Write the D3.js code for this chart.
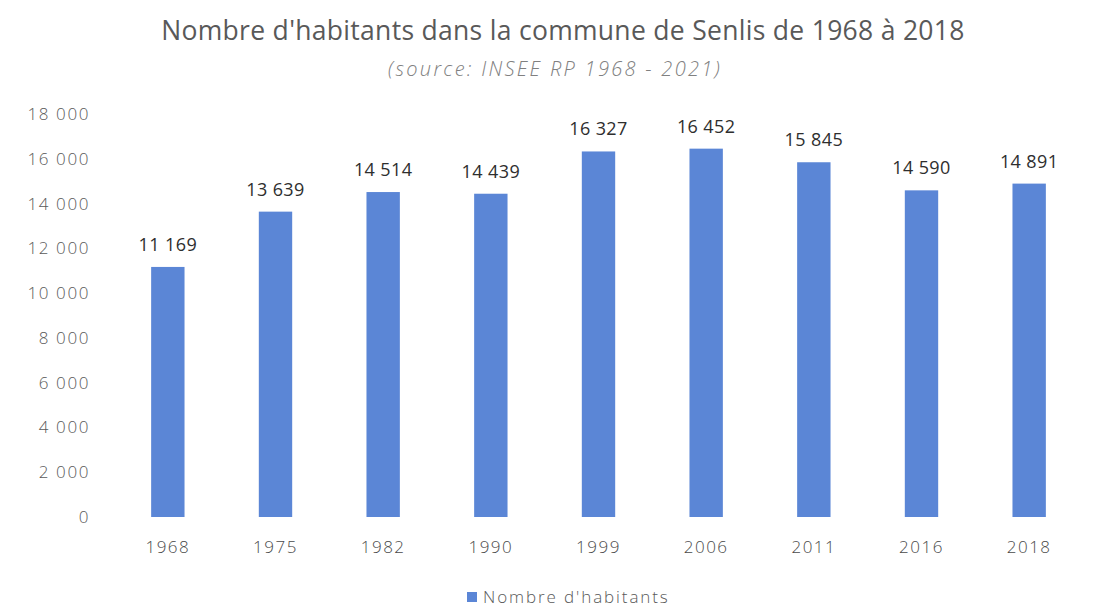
<!DOCTYPE html>
<html>
<head>
<meta charset="utf-8">
<script src="https://cdn.jsdelivr.net/npm/d3@7"></script>
<style>
  body { margin: 0; background: #fff; }
  text { font-family: "Open Sans", sans-serif; }
</style>
</head>
<body>
<svg width="1099" height="607"></svg>
<script>
const years = ["1968", "1975", "1982", "1990", "1999", "2006", "2011", "2016", "2018"]
const habitants = [11169, 13639, 14514, 14439, 16327, 16452, 15845, 14590, 14891]
const yTicks = [0, 2000, 4000, 6000, 8000, 10000, 12000, 14000, 16000, 18000]

const svg = d3.select("svg")
const width = +svg.attr("width")
const margin = {top: 114, right: 16, bottom: 90, left: 114}
const innerWidth = width - margin.left - margin.right
const innerHeight = 517 - margin.top

const fmt = v => d3.format(",")(v).replace(/,/g, " ")

const xScale = d3.scaleBand()
  .domain(years)
  .range([0, innerWidth])
  .paddingInner(0.69)
  .paddingOuter(0.345)

const yScale = d3.scaleLinear()
  .domain([0, 18000])
  .range([innerHeight, 0])

const g = svg.append("g")
  .attr("transform", `translate(${margin.left}, ${margin.top})`)

const yAxisG = g.append("g")
  .call(d3.axisLeft(yScale).tickValues(yTicks).tickFormat(fmt).tickSize(0).tickPadding(24))
yAxisG.select(".domain").remove()
yAxisG.selectAll("text")
  .attr("fill", "#5a5a5a")
  .style("font-size", "17px")
  .style("font-weight", "300")
  .style("letter-spacing", "1.6px")

const xAxisG = g.append("g")
  .attr("transform", `translate(0, ${innerHeight})`)
  .call(d3.axisBottom(xScale).tickSize(0).tickPadding(24))
xAxisG.select(".domain").remove()
xAxisG.selectAll("text")
  .attr("fill", "#4a4a4a")
  .style("font-size", "17px")
  .style("font-weight", "300")
  .style("letter-spacing", "1.5px")

g.selectAll("rect.bar").data(habitants)
  .enter().append("rect")
  .attr("class", "bar")
  .attr("x", (d, i) => xScale(years[i]))
  .attr("width", xScale.bandwidth())
  .attr("y", d => yScale(d))
  .attr("height", d => innerHeight - yScale(d))
  .attr("fill", "#5b86d6")

g.selectAll("text.label").data(habitants)
  .enter().append("text")
  .attr("class", "label")
  .attr("x", (d, i) => xScale(years[i]) + xScale.bandwidth() / 2)
  .attr("y", d => yScale(d) - 16)
  .attr("text-anchor", "middle")
  .attr("fill", "#2e2e2e")
  .style("font-size", "18px")
  .style("letter-spacing", "0.4px")
  .text(fmt)

svg.append("text")
  .attr("x", 563)
  .attr("y", 40)
  .attr("text-anchor", "middle")
  .attr("fill", "#595959")
  .style("font-size", "26.5px")
  .style("letter-spacing", "0.3px")
  .text("Nombre d'habitants dans la commune de Senlis de 1968 à 2018")

svg.append("text")
  .attr("x", 555)
  .attr("y", 76)
  .attr("text-anchor", "middle")
  .attr("fill", "#808080")
  .style("font-size", "20px")
  .style("font-style", "italic")
  .style("font-weight", "300")
  .style("letter-spacing", "2.3px")
  .text("(source: INSEE RP 1968 - 2021)")

const legend = svg.append("g").attr("transform", "translate(467, 592)")
legend.append("rect").attr("width", 10).attr("height", 10).attr("fill", "#5b86d6")
legend.append("text")
  .attr("x", 16).attr("y", 11)
  .attr("fill", "#595959")
  .style("font-size", "17px")
  .style("font-weight", "300")
  .style("letter-spacing", "1.9px")
  .text("Nombre d'habitants")
</script>
</body>
</html>
